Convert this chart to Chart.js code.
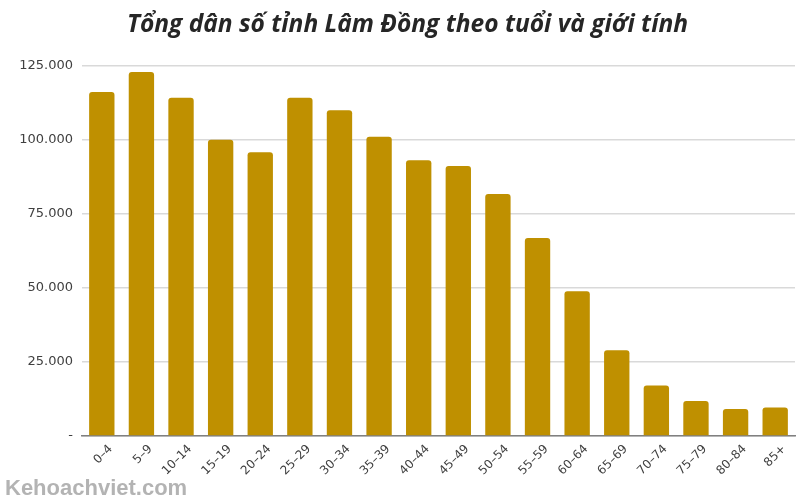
<!DOCTYPE html>
<html>
<head>
<meta charset="utf-8">
<script src="https://cdn.jsdelivr.net/npm/chart.js@4/dist/chart.umd.min.js"></script>
<style>
  html, body { margin: 0; padding: 0; background: #fff; }
  #wrap { width: 800px; height: 500px; position: relative; }
</style>
</head>
<body>
<div id="wrap"><canvas id="c" width="800" height="500"></canvas></div>
<script>
const categories = ["0–4","5–9","10–14","15–19","20–24","25–29","30–34","35–39","40–44","45–49","50–54","55–59","60–64","65–69","70–74","75–79","80–84","85+"];
const population = [116000, 122800, 114100, 99900, 95700, 114100, 109900, 100900, 93000, 91100, 81600, 66800, 48800, 28900, 17000, 11800, 9100, 9600];
const yTicks = [0, 25000, 50000, 75000, 100000, 125000];
const titleText = "Tổng dân số tỉnh Lâm Đồng theo tuổi và giới tính";
const watermark = "Kehoachviet.com";

function fmt(v) {
  if (v === 0) return "-";
  return v.toLocaleString("de-DE");
}

const watermarkPlugin = {
  id: "watermark",
  afterDraw(chart) {
    const ctx = chart.ctx;
    ctx.save();
    ctx.font = "bold 22px 'Liberation Sans', Arial, sans-serif";
    ctx.fillStyle = "rgba(160,160,160,0.8)";
    ctx.textAlign = "left";
    ctx.textBaseline = "alphabetic";
    ctx.fillText(watermark, 5, 495);
    ctx.restore();
  }
};

new Chart(document.getElementById("c"), {
  type: "bar",
  data: {
    labels: categories,
    datasets: [{
      data: population,
      backgroundColor: "#BF9000",
      borderColor: "#BF9000",
      borderWidth: 0,
      borderRadius: { topLeft: 3, topRight: 3, bottomLeft: 0, bottomRight: 0 },
      borderSkipped: "bottom",
      barPercentage: 0.64,
      categoryPercentage: 1.0
    }]
  },
  options: {
    responsive: false,
    animation: false,
    devicePixelRatio: 1,
    layout: { padding: { left: 20, right: 5, top: 0, bottom: 0 } },
    plugins: {
      legend: { display: false },
      tooltip: { enabled: false },
      title: {
        display: true,
        text: titleText,
        color: "#262626",
        font: { family: "'Open Sans', sans-serif", size: 24.5, weight: "bold", style: "italic" },
        padding: { top: 10, bottom: 26 }
      }
    },
    scales: {
      x: {
        grid: { display: false, drawTicks: false },
        border: { display: true, color: "#808080", width: 1.5 },
        ticks: {
          color: "#404040",
          font: { family: "'DejaVu Sans', sans-serif", size: 12 },
          maxRotation: 45, minRotation: 45,
          padding: 6,
          labelOffset: 9,
          autoSkip: false
        },
        afterFit(scale) { scale.height = 64; }
      },
      y: {
        min: 0, max: 125000,
        afterBuildTicks(scale) { scale.ticks = yTicks.map(v => ({ value: v })); },
        grid: { color: "#d9d9d9", lineWidth: 1.5, drawTicks: false },
        border: { display: false },
        ticks: {
          color: "#404040",
          font: { family: "'DejaVu Sans', sans-serif", size: 13 },
          padding: 9,
          callback: v => fmt(v)
        },
        afterFit(scale) { scale.width = 62; }
      }
    }
  },
  plugins: [watermarkPlugin]
});
</script>
</body>
</html>
